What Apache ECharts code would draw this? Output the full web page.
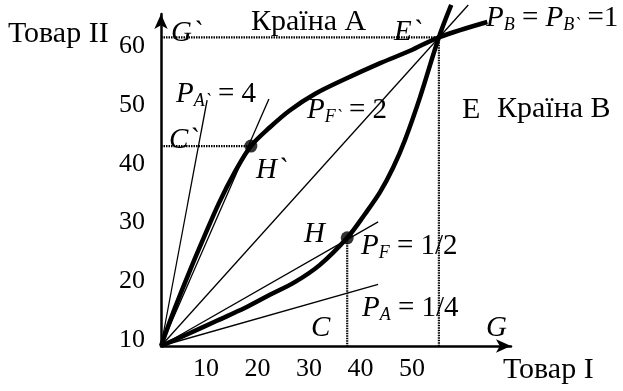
<!DOCTYPE html>
<html>
<head>
<meta charset="utf-8">
<script src="https://cdn.jsdelivr.net/npm/echarts@6/dist/echarts.min.js"></script>
<style>
  html, body { margin: 0; padding: 0; background: #fff; }
  #chart { width: 623px; height: 391px; }
</style>
</head>
<body>
<div id="chart"></div>
<script>
// tick labels as printed on the axes
const xTicks = [10, 20, 30, 40, 50];
const yTicks = [10, 20, 30, 40, 50, 60];

// thick curve of country A (concave) and of country B (convex)
const curveA = [[1.25, 9], [3.8, 15.1], [6.9, 21.9], [9.6, 27.5], [12.5, 33.3], [15.6, 38.6],
  [18.7, 43.0], [22.4, 46.2], [26.3, 49.1], [31.2, 51.9], [37.0, 54.4], [43.8, 57.1],
  [49.6, 59.2], [55.2, 61.5], [64.6, 64.1]];
const curveB = [[1.25, 9], [6.9, 11.2], [12.1, 13.3], [17.6, 15.5], [22.4, 17.7], [27.3, 19.9],
  [32.1, 22.8], [37.4, 27.4], [40.9, 31.5], [43.8, 35.2], [46.3, 39.3], [48.6, 44.0],
  [51.5, 51.2], [55.2, 61.5], [57.6, 67.0]];

// price rays from the origin
const rayPA4 = [[1.25, 9], [10.2, 50.8]];
const rayPF2 = [[1.25, 9], [22.2, 51.0]];
const rayPB1 = [[1.25, 9], [60.9, 67.0]];
const rayPF05 = [[1.25, 9], [43.4, 30.1]];
const rayPA025 = [[1.25, 9], [43.4, 19.5]];

// points H`, H and E` with their dotted guides
const pointH1 = [18.7, 43.0];
const pointH = [37.4, 27.4];
const pointE1 = [55.2, 61.5];
const guideG1E1 = [[1.25, 61.5], pointE1];
const guideE1G = [pointE1, [55.2, 9]];
const guideC1H1 = [[1.25, 43.0], pointH1];
const guideHC = [pointH, [37.4, 9]];

const F = '"Liberation Serif", "Times New Roman", serif';
const chart = echarts.init(document.getElementById('chart'));

const rich = {
  i: { fontStyle: 'italic', fontSize: 29, fontFamily: F, lineHeight: 32 },
  s: { fontStyle: 'italic', fontSize: 18, fontFamily: F, lineHeight: 32, verticalAlign: 'bottom' }
};

function label(x, y, text, size) {
  return {
    type: 'text', x: x, y: y, silent: true,
    style: {
      text: text, rich: rich, fill: '#000', fontSize: size || 29, fontFamily: F,
      lineHeight: 32, verticalAlign: 'middle'
    }
  };
}

function thin(data, extra) {
  return Object.assign({
    type: 'line', data: data, showSymbol: false, clip: false, silent: true,
    lineStyle: { color: '#000', width: 1.3 }
  }, extra || {});
}

function dotted(data) {
  return thin(data, { lineStyle: { color: '#000', width: 2.2, type: [1.5, 1] } });
}

function thick(data) {
  return thin(data, { smooth: 0.35, lineStyle: { color: '#000', width: 4.5 } });
}

chart.setOption({
  animation: false,
  grid: { left: 161, right: 112, top: 14, bottom: 45 },
  xAxis: {
    type: 'value', min: 1.25, max: 69.2,
    axisLine: { onZero: false, symbol: ['none', 'arrow'], symbolSize: [10, 15],
      lineStyle: { color: '#000', width: 2.5 } },
    axisTick: { show: false },
    splitLine: { show: false },
    axisLabel: { customValues: xTicks, margin: 10, color: '#000', fontSize: 26, fontFamily: F }
  },
  yAxis: {
    type: 'value', min: 9, max: 65.46,
    axisLine: { show: true, symbol: ['none', 'arrow'], symbolSize: [10, 15],
      lineStyle: { color: '#000', width: 2.5 } },
    axisTick: { show: false },
    splitLine: { show: false },
    axisLabel: { customValues: yTicks, margin: 16, color: '#000', fontSize: 26, fontFamily: F }
  },
  series: [
    dotted(guideG1E1), dotted(guideE1G), dotted(guideC1H1), dotted(guideHC),
    thin(rayPA4), thin(rayPF2), thin(rayPB1), thin(rayPF05), thin(rayPA025),
    thick(curveA), thick(curveB),
    {
      type: 'scatter', data: [pointH1, pointH], symbolSize: 13, silent: true,
      itemStyle: { color: '#000' }
    }
  ],
  graphic: [
    label(8, 34, 'Товар II', 30),
    label(171, 33, '{i|G`}'),
    label(251, 22, 'Країна А', 30),
    label(394, 32, '{i|E`}'),
    label(486, 18, '{i|P}{s|B} = {i|P}{s|B`} =1'),
    label(176, 94, '{i|P}{s|A`} = 4'),
    label(169, 140, '{i|C`}'),
    label(307, 110, '{i|P}{s|F`} = 2'),
    label(256, 170, '{i|H`}'),
    label(462, 110, 'E', 30),
    label(497, 109, 'Країна В', 30),
    label(304, 234, '{i|H}'),
    label(361, 246, '{i|P}{s|F} = 1/2'),
    label(362, 308, '{i|P}{s|A} = 1/4'),
    label(311, 328, '{i|C}'),
    label(486, 328, '{i|G}'),
    label(503, 370, 'Товар I', 30)
  ]
});
</script>
</body>
</html>
